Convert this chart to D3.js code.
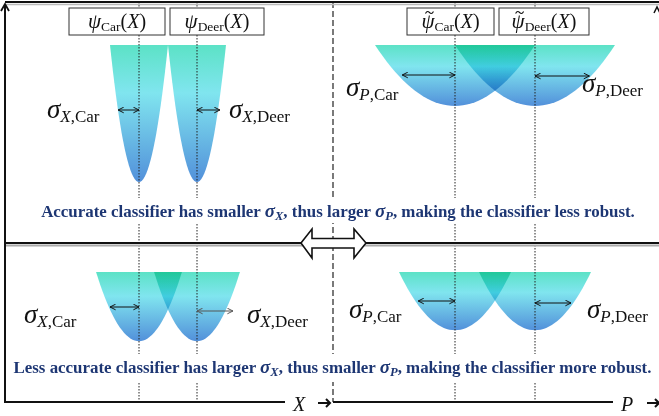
<!DOCTYPE html>
<html>
<head>
<meta charset="utf-8">
<script src="https://cdn.jsdelivr.net/npm/d3@7"></script>
<style>
  html, body { margin: 0; padding: 0; background: #fff; }
  svg { display: block; }
  .bowl { mix-blend-mode: multiply; }
</style>
</head>
<body>
<svg id="chart" width="659" height="416"></svg>
<script>
(function () {
    // ---- data ----
    const classes   = ["Car", "Deer"];
    const means     = [-1, 1];              // class centres, same units on X and P
    const halfX     = [1.0, 1.48];          // bowl half width in X: accurate / less accurate
    const halfP     = [2.0, 1.4];           // bowl half width in P
    const depthX    = [1.0, 0.505];         // bowl depth (relative)
    const depthP    = [0.445, 0.425];
    const sigmaXTop = [0.72, 0.79];         // arrow lengths, accurate classifier
    const sigmaPTop = [1.32, 1.36];
    const sigmaXBot = [1.0, 1.24];          // arrow lengths, less accurate classifier
    const sigmaPBot = [0.92, 0.9];
    const captions  = [
        ["Accurate classifier has smaller ", "X", ", thus larger ", "P", ", making the classifier less robust."],
        ["Less accurate classifier has larger ", "X", ", thus smaller ", "P", ", making the classifier more robust."]
    ];

    // ---- layout ----
    const W = 659, H = 416;
    const MID_X = 333, MID_Y = 243, AXIS_Y = 402, LEFT = 5;
    const RIM = [45, 272];
    const NAVY = "#1d3673";
    const MATH = "'Liberation Serif', 'DejaVu Serif', serif";

    const svg = d3.select("#chart");
    const xScale = d3.scaleLinear().domain([-1, 1]).range([139, 197]);
    const pScale = d3.scaleLinear().domain([-1, 1]).range([455, 535]);
    const yDepth = d3.scaleLinear().domain([0, 1]).range([0, 137]);

    const defs = svg.append("defs");
    const grad = defs.append("linearGradient")
        .attr("id", "bowlGrad").attr("x1", 0).attr("y1", 0).attr("x2", 0).attr("y2", 1);
    grad.append("stop").attr("offset", "0%").attr("stop-color", "#5ce2c6");
    grad.append("stop").attr("offset", "35%").attr("stop-color", "#80e5ef");
    grad.append("stop").attr("offset", "100%").attr("stop-color", "#5290da");

    function marker(id, color) {
        defs.append("marker")
            .attr("id", id).attr("viewBox", "0 0 10 10")
            .attr("refX", 9).attr("refY", 5)
            .attr("markerWidth", 7).attr("markerHeight", 7)
            .attr("markerUnits", "userSpaceOnUse")
            .attr("orient", "auto-start-reverse")
            .append("path").attr("d", "M1,1 L9,5 L1,9")
            .attr("fill", "none").attr("stroke", color).attr("stroke-width", 1.4);
    }
    marker("hd", "#111");
    marker("hdGray", "#555");

    const line = d3.line();

    // ---- bowls ----
    function bowls(scale, half, depth, row) {
        const g = svg.append("g");
        classes.forEach((c, i) => {
            const D = yDepth(depth);
            const pts = d3.range(-1, 1.0001, 0.05).map(t =>
                [scale(means[i] + t * half), RIM[row] + D * (1 - t * t)]);
            g.append("path").attr("class", "bowl")
                .attr("d", line(pts) + "Z")
                .attr("fill", "url(#bowlGrad)");
        });
    }
    bowls(xScale, halfX[0], depthX[0], 0);
    bowls(pScale, halfP[0], depthP[0], 0);
    bowls(xScale, halfX[1], depthX[1], 1);
    bowls(pScale, halfP[1], depthP[1], 1);

    // ---- guide lines ----
    const guides = svg.append("g");
    means.forEach(m => {
        [xScale(m), pScale(m)].forEach(x => {
            guides.append("line")
                .attr("x1", x).attr("x2", x).attr("y1", 2).attr("y2", AXIS_Y)
                .attr("stroke", "#222").attr("stroke-width", 1)
                .attr("stroke-dasharray", "1.5,1.5");
        });
    });
    guides.append("line")
        .attr("x1", MID_X).attr("x2", MID_X).attr("y1", 2).attr("y2", AXIS_Y)
        .attr("stroke", "#222").attr("stroke-width", 1.2)
        .attr("stroke-dasharray", "6,3");

    // ---- sigma arrows ----
    function sigmaArrows(scale, sig, ys, greyDeer) {
        classes.forEach((c, i) => {
            const x0 = scale(means[i]);
            const x1 = scale(means[i] + (i === 0 ? -sig[i] : sig[i]));
            const grey = greyDeer && i === 1;
            svg.append("line")
                .attr("x1", x0).attr("x2", x1).attr("y1", ys[i]).attr("y2", ys[i])
                .attr("stroke", grey ? "#555" : "#111").attr("stroke-width", 1)
                .attr("marker-start", grey ? "url(#hdGray)" : "url(#hd)")
                .attr("marker-end", grey ? "url(#hdGray)" : "url(#hd)");
        });
    }
    sigmaArrows(xScale, sigmaXTop, [110, 110], false);
    sigmaArrows(pScale, sigmaPTop, [75, 76], false);
    sigmaArrows(xScale, sigmaXBot, [307, 311], true);
    sigmaArrows(pScale, sigmaPBot, [301, 303], false);

    // ---- sigma labels ----
    function sigmaLabel(x, y, sub, cls) {
        const t = svg.append("text").attr("x", x).attr("y", y)
            .attr("font-family", MATH).attr("fill", "#111");
        t.append("tspan").attr("font-size", 27).attr("font-style", "italic").text("σ");
        t.append("tspan").attr("font-size", 17).attr("dy", 4).attr("font-style", "italic").text(sub);
        t.append("tspan").attr("font-size", 17).text("," + cls);
    }
    sigmaLabel(47, 118, "X", "Car");
    sigmaLabel(229, 118, "X", "Deer");
    sigmaLabel(346, 96, "P", "Car");
    sigmaLabel(582, 92, "P", "Deer");
    sigmaLabel(24, 323, "X", "Car");
    sigmaLabel(247, 323, "X", "Deer");
    sigmaLabel(349, 318, "P", "Car");
    sigmaLabel(587, 318, "P", "Deer");

    // ---- label boxes ----
    const boxes = [
        { x0: 69, x1: 165, cls: "Car", tilde: false },
        { x0: 170, x1: 264, cls: "Deer", tilde: false },
        { x0: 407, x1: 494, cls: "Car", tilde: true },
        { x0: 499, x1: 589, cls: "Deer", tilde: true }
    ];
    boxes.forEach(b => {
        svg.append("rect")
            .attr("x", b.x0).attr("y", 8).attr("width", b.x1 - b.x0).attr("height", 27)
            .attr("fill", "#fff").attr("stroke", "#333").attr("stroke-width", 1);
        const t = svg.append("text")
            .attr("x", (b.x0 + b.x1) / 2).attr("y", 28)
            .attr("text-anchor", "middle")
            .attr("font-family", MATH).attr("fill", "#111");
        t.append("tspan").attr("font-size", 21).attr("font-style", "italic").text("ψ");
        t.append("tspan").attr("font-size", 13.5).attr("dy", 3).text(b.cls);
        t.append("tspan").attr("font-size", 20).attr("dy", -3).text("(");
        t.append("tspan").attr("font-size", 20).attr("font-style", "italic").text("X");
        t.append("tspan").attr("font-size", 20).text(")");
        if (b.tilde) {
            // tilde accent drawn as a small wave over the psi
            const ext = t.node().getExtentOfChar(0);
            const cx = ext.x + ext.width / 2 + 1.5, cy = 12.5;
            svg.append("path")
                .attr("d", `M${cx - 4},${cy + 1} C${cx - 2.5},${cy - 2} ${cx - 1},${cy - 1} ${cx},${cy}` +
                           ` S${cx + 2.5},${cy + 2} ${cx + 4},${cy - 1}`)
                .attr("fill", "none").attr("stroke", "#111").attr("stroke-width", 1.1);
        }
    });

    // ---- captions ----
    function caption(parts, cx, y, bg) {
        svg.append("rect")
            .attr("x", bg[0]).attr("y", bg[1]).attr("width", bg[2] - bg[0]).attr("height", bg[3] - bg[1])
            .attr("fill", "#fff");
        const t = svg.append("text").attr("x", cx).attr("y", y)
            .attr("text-anchor", "middle")
            .attr("font-family", "'Liberation Serif', 'Times New Roman', serif")
            .attr("font-weight", "bold").attr("font-size", 16.9).attr("fill", NAVY);
        t.append("tspan").text(parts[0]);
        t.append("tspan").attr("font-style", "italic").attr("font-size", 19).text("σ");
        t.append("tspan").attr("font-style", "italic").attr("font-size", 12.5).attr("dy", 3).text(parts[1]);
        t.append("tspan").attr("dy", -3).text(parts[2]);
        t.append("tspan").attr("font-style", "italic").attr("font-size", 19).text("σ");
        t.append("tspan").attr("font-style", "italic").attr("font-size", 12.5).attr("dy", 3).text(parts[3]);
        t.append("tspan").attr("dy", -3).text(parts[4]);
    }
    caption(captions[0], 338, 217, [34, 198, 642, 223]);
    caption(captions[1], 332.5, 373, [10, 354, 655, 382]);

    // ---- frame and axes ----
    const frame = svg.append("g");
    // shadows
    frame.append("line").attr("x1", LEFT).attr("x2", W).attr("y1", 4.5).attr("y2", 4.5)
        .attr("stroke", "#bbb").attr("stroke-width", 1.5);
    frame.append("line").attr("x1", LEFT).attr("x2", W).attr("y1", MID_Y + 2.5).attr("y2", MID_Y + 2.5)
        .attr("stroke", "#aaa").attr("stroke-width", 2);
    frame.append("line").attr("x1", LEFT).attr("x2", W).attr("y1", 2).attr("y2", 2)
        .attr("stroke", "#111").attr("stroke-width", 2);
    frame.append("line").attr("x1", LEFT).attr("x2", W).attr("y1", MID_Y).attr("y2", MID_Y)
        .attr("stroke", "#111").attr("stroke-width", 2);

    // left vertical axis with arrow
    frame.append("line").attr("x1", LEFT).attr("x2", LEFT).attr("y1", AXIS_Y + 1).attr("y2", 5)
        .attr("stroke", "#111").attr("stroke-width", 2);
    frame.append("path").attr("d", `M${LEFT - 4},${11} L${LEFT},${4} L${LEFT + 4},${11}`)
        .attr("fill", "none").attr("stroke", "#111").attr("stroke-width", 1.8);
    // corner tip on the right
    frame.append("path").attr("d", `M${W - 5},${13} L${W - 2},${7} L${W + 1},${13}`)
        .attr("fill", "none").attr("stroke", "#111").attr("stroke-width", 1.5);

    // bottom axes
    frame.append("line").attr("x1", LEFT).attr("x2", 285).attr("y1", AXIS_Y).attr("y2", AXIS_Y)
        .attr("stroke", "#111").attr("stroke-width", 2);
    frame.append("line").attr("x1", MID_X).attr("x2", 613).attr("y1", AXIS_Y).attr("y2", AXIS_Y)
        .attr("stroke", "#111").attr("stroke-width", 2);
    [["X", 293, 318], ["P", 621, 647]].forEach(([lab, tx, ax]) => {
        svg.append("text").attr("x", tx).attr("y", 411)
            .attr("font-family", MATH).attr("font-style", "italic").attr("font-size", 20)
            .attr("fill", "#111").text(lab);
        frame.append("line").attr("x1", ax).attr("x2", ax + 12).attr("y1", AXIS_Y + 1).attr("y2", AXIS_Y + 1)
            .attr("stroke", "#111").attr("stroke-width", 2);
        frame.append("path").attr("d", `M${ax + 8},${AXIS_Y - 3} L${ax + 12},${AXIS_Y + 1} L${ax + 8},${AXIS_Y + 5}`)
            .attr("fill", "none").attr("stroke", "#111").attr("stroke-width", 2);
    });

    // hollow double arrow in the middle
    const arrowPts = [[301, 243], [312, 229], [312, 238.5], [354, 238.5], [354, 229], [366, 243],
                      [354, 258], [354, 248], [312, 248], [312, 258]];
    svg.append("path").attr("d", line(arrowPts) + "Z")
        .attr("fill", "#fff").attr("stroke", "#111").attr("stroke-width", 1.6)
        .attr("stroke-linejoin", "miter");
})();
</script>
</body>
</html>
